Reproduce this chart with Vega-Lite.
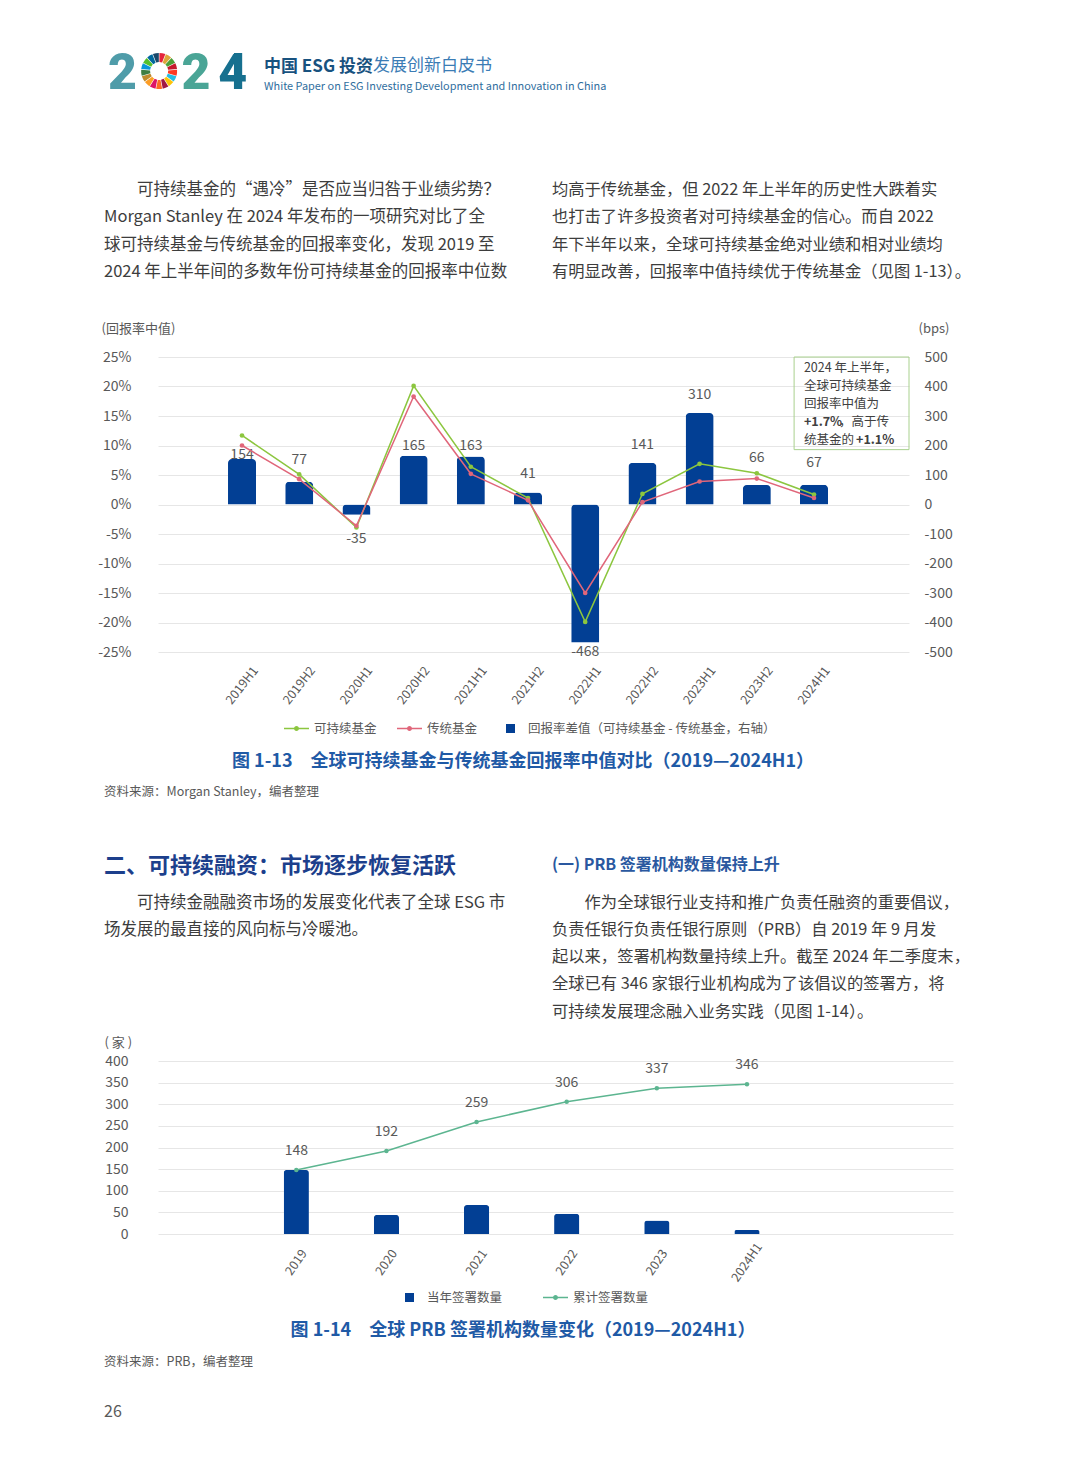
{
  "$schema": "https://vega.github.io/schema/vega-lite/v6.json",
  "background": "white",
  "padding": {"left": 97, "top": 49, "right": 0, "bottom": 0},
  "columns": 2,
  "spacing": {"row": 0, "column": 0},
  "bounds": "flush",
  "align": "each",
  "resolve": {"scale": {"color": "independent", "shape": "independent"}, "legend": {"color": "independent", "shape": "independent"}},
  "config": {
    "view": {"stroke": null},
    "font": "Noto Sans CJK SC"
  },
  "datasets": {
    "c1bars": [
      {"p": "2019H1", "diff": 154}, {"p": "2019H2", "diff": 77}, {"p": "2020H1", "diff": -35},
      {"p": "2020H2", "diff": 165}, {"p": "2021H1", "diff": 163}, {"p": "2021H2", "diff": 41},
      {"p": "2022H1", "diff": -468}, {"p": "2022H2", "diff": 141}, {"p": "2023H1", "diff": 310},
      {"p": "2023H2", "diff": 66}, {"p": "2024H1", "diff": 67}
    ],
    "c1lines": [
      {"p": "2019H1", "series": "可持续基金", "value": 11.7}, {"p": "2019H2", "series": "可持续基金", "value": 5.1},
      {"p": "2020H1", "series": "可持续基金", "value": -3.9}, {"p": "2020H2", "series": "可持续基金", "value": 20.1},
      {"p": "2021H1", "series": "可持续基金", "value": 6.4}, {"p": "2021H2", "series": "可持续基金", "value": 1.1},
      {"p": "2022H1", "series": "可持续基金", "value": -19.9}, {"p": "2022H2", "series": "可持续基金", "value": 1.8},
      {"p": "2023H1", "series": "可持续基金", "value": 6.9}, {"p": "2023H2", "series": "可持续基金", "value": 5.3},
      {"p": "2024H1", "series": "可持续基金", "value": 1.7},
      {"p": "2019H1", "series": "传统基金", "value": 10.0}, {"p": "2019H2", "series": "传统基金", "value": 4.3},
      {"p": "2020H1", "series": "传统基金", "value": -3.6}, {"p": "2020H2", "series": "传统基金", "value": 18.3},
      {"p": "2021H1", "series": "传统基金", "value": 5.2}, {"p": "2021H2", "series": "传统基金", "value": 0.7},
      {"p": "2022H1", "series": "传统基金", "value": -15.0}, {"p": "2022H2", "series": "传统基金", "value": 0.4},
      {"p": "2023H1", "series": "传统基金", "value": 3.9}, {"p": "2023H2", "series": "传统基金", "value": 4.4},
      {"p": "2024H1", "series": "传统基金", "value": 1.1}
    ],
    "c2": [
      {"yr": "2019", "series": "当年签署数量", "n": 148}, {"yr": "2020", "series": "当年签署数量", "n": 44},
      {"yr": "2021", "series": "当年签署数量", "n": 67}, {"yr": "2022", "series": "当年签署数量", "n": 47},
      {"yr": "2023", "series": "当年签署数量", "n": 31}, {"yr": "2024H1", "series": "当年签署数量", "n": 9},
      {"yr": "2019", "series": "累计签署数量", "n": 148}, {"yr": "2020", "series": "累计签署数量", "n": 192},
      {"yr": "2021", "series": "累计签署数量", "n": 259}, {"yr": "2022", "series": "累计签署数量", "n": 306},
      {"yr": "2023", "series": "累计签署数量", "n": 337}, {"yr": "2024H1", "series": "累计签署数量", "n": 346}
    ]
  },
  "concat": [
    {
      "width": 54, "height": 38,
      "title": {
        "text": "中国 ESG 投资",
        "subtitle": "White Paper on ESG Investing Development and Innovation in China",
        "orient": "bottom", "anchor": "start", "frame": "group", "offset": -40, "dx": 160,
        "fontSize": 17, "fontWeight": "bold", "color": "#18527f",
        "subtitleFontSize": 10.9, "subtitleColor": "#2f6e9e", "subtitlePadding": 5
      },
      "layer": [
        {
          "data": {"values": [{"slot": "a", "d": "2"}, {"slot": "c", "d": "2"}, {"slot": "d", "d": "4"}]},
          "mark": {"type": "text", "font": "Roboto", "fontWeight": 900, "fontSize": 50, "baseline": "middle", "dy": 3},
          "encoding": {
            "x": {"field": "slot", "type": "nominal", "scale": {"domain": ["a", "b", "c", "d"], "range": [0, 147], "paddingInner": 0, "paddingOuter": 0}, "axis": null},
            "text": {"field": "d"},
            "color": {"field": "slot", "type": "nominal", "scale": {"domain": ["a", "c", "d"], "range": ["#4f9ca9", "#4aa596", "#16708f"]}, "legend": null}
          }
        },
        {
          "data": {"values": [{"g": 1}, {"g": 2}, {"g": 3}, {"g": 4}, {"g": 5}, {"g": 6}, {"g": 7}, {"g": 8}, {"g": 9}, {"g": 10}, {"g": 11}, {"g": 12}, {"g": 13}, {"g": 14}, {"g": 15}, {"g": 16}, {"g": 17}]},
          "mark": {"type": "arc", "innerRadius": 9, "outerRadius": 18, "padAngle": 0.03},
          "encoding": {
            "x": {"datum": "b", "type": "nominal"},
            "theta": {"aggregate": "count", "type": "quantitative"},
            "color": {"field": "g", "type": "ordinal", "scale": {"range": ["#E5243B", "#DDA63A", "#4C9F38", "#C5192D", "#FF3A21", "#26BDE2", "#FCC30B", "#A21942", "#FD6925", "#DD1367", "#FD9D24", "#BF8B2E", "#3F7E44", "#0A97D9", "#56C02B", "#00689D", "#19486A"]}, "legend": null}
          }
        }
      ],
      "resolve": {"scale": {"color": "independent"}}
    },
    {
      "width": 100, "height": 123,
      "data": {"values": [{}]},
      "mark": {"type": "text"},
      "encoding": {"text": {"value": ""}},
      "title": {
        "text": "发展创新白皮书",
        "orient": "bottom", "anchor": "start", "frame": "group", "offset": -117, "dx": 215,
        "fontSize": 17, "fontWeight": "normal", "color": "#3b7cb5"
      }
    },
    {
      "width": 54, "height": 182,
      "data": {"values": [{}]},
      "mark": {"type": "text"},
      "encoding": {"text": {"value": ""}},
      "title": {
        "text": ["\u200b　　可持续基金的“遇冷”是否应当归咎于业绩劣势？", "Morgan Stanley 在 2024 年发布的一项研究对比了全", "球可持续基金与传统基金的回报率变化，发现 2019 至", "2024 年上半年间的多数年份可持续基金的回报率中位数"],
        "orient": "bottom", "anchor": "start", "frame": "group", "offset": -175,
        "fontSize": 16.5, "fontWeight": "normal", "lineHeight": 27.3, "color": "#3d3d3d"
      }
    },
    {
      "width": 100, "height": 182,
      "data": {"values": [{}]},
      "mark": {"type": "text"},
      "encoding": {"text": {"value": ""}},
      "title": {
        "text": ["均高于传统基金，但 2022 年上半年的历史性大跌着实", "也打击了许多投资者对可持续基金的信心。而自 2022", "年下半年以来，全球可持续基金绝对业绩和相对业绩均", "有明显改善，回报率中值持续优于传统基金（见图 1-13）。"],
        "orient": "bottom", "anchor": "start", "frame": "group", "offset": -175, "dx": 394,
        "fontSize": 16.3, "fontWeight": "normal", "lineHeight": 27.3, "color": "#3d3d3d"
      }
    },
    {
      "width": 1, "height": 391,
      "data": {"values": [{}]},
      "mark": {"type": "text"},
      "encoding": {"text": {"value": ""}}
    },
    {
      "width": 751, "height": 295,
      "layer": [
        {
          "data": {"name": "c1bars"},
          "layer": [
            {
              "mark": {"type": "bar", "color": "#023f94", "cornerRadiusEnd": 4},
              "encoding": {
                "x": {
                  "field": "p", "type": "nominal",
                  "scale": {"domain": ["_a", "2019H1", "2019H2", "2020H1", "2020H2", "2021H1", "2021H2", "2022H1", "2022H2", "2023H1", "2023H2", "2024H1", "_b"], "paddingInner": 0.51, "paddingOuter": 0.32, "align": 0.35},
                  "axis": {"title": null, "labelExpr": "indexof(datum.label, '_') === 0 ? '' : datum.label", "labelAngle": -52, "labelAlign": "center", "labelBaseline": "middle", "labelPadding": 33, "labelFontSize": 12.5, "labelColor": "#595959", "domain": false, "ticks": false, "labelOverlap": false}
                },
                "y": {
                  "field": "diff", "type": "quantitative",
                  "scale": {"domain": [-500, 500], "nice": false},
                  "axis": {"orient": "right", "values": [-500, -400, -300, -200, -100, 0, 100, 200, 300, 400, 500], "tickCount": 20, "labelExpr": "datum.value + ''", "labelOverlap": false, "grid": false, "domain": false, "ticks": false, "labelPadding": 15, "labelFontSize": 14, "labelColor": "#595959", "title": "(bps)", "titleAngle": 0, "titleAlign": "left", "titleBaseline": "middle", "titleX": 9, "titleY": -29, "titleFontSize": 13, "titleFontWeight": "normal", "titleColor": "#595959"}
                }
              }
            },
            {
              "transform": [{"filter": "datum.diff === 154"}],
              "mark": {"type": "text", "baseline": "middle", "dy": -4, "fontSize": 14, "color": "#595959"},
              "encoding": {"x": {"field": "p", "type": "nominal"}, "y": {"field": "diff", "type": "quantitative"}, "text": {"field": "diff"}}
            },
            {
              "transform": [{"filter": "indexof([165, 163], datum.diff) >= 0"}],
              "mark": {"type": "text", "baseline": "middle", "dy": -10, "fontSize": 14, "color": "#595959"},
              "encoding": {"x": {"field": "p", "type": "nominal"}, "y": {"field": "diff", "type": "quantitative"}, "text": {"field": "diff"}}
            },
            {
              "transform": [{"filter": "indexof([41, 141, 310], datum.diff) >= 0"}],
              "mark": {"type": "text", "baseline": "middle", "dy": -18, "fontSize": 14, "color": "#595959"},
              "encoding": {"x": {"field": "p", "type": "nominal"}, "y": {"field": "diff", "type": "quantitative"}, "text": {"field": "diff"}}
            },
            {
              "transform": [{"filter": "indexof([77, 67], datum.diff) >= 0"}],
              "mark": {"type": "text", "baseline": "middle", "dy": -22, "fontSize": 14, "color": "#595959"},
              "encoding": {"x": {"field": "p", "type": "nominal"}, "y": {"field": "diff", "type": "quantitative"}, "text": {"field": "diff"}}
            },
            {
              "transform": [{"filter": "datum.diff === 66"}],
              "mark": {"type": "text", "baseline": "middle", "dy": -27, "fontSize": 14, "color": "#595959"},
              "encoding": {"x": {"field": "p", "type": "nominal"}, "y": {"field": "diff", "type": "quantitative"}, "text": {"field": "diff"}}
            },
            {
              "transform": [{"filter": "datum.diff === -35"}],
              "mark": {"type": "text", "baseline": "middle", "dy": 24, "fontSize": 14, "color": "#595959"},
              "encoding": {"x": {"field": "p", "type": "nominal"}, "y": {"field": "diff", "type": "quantitative"}, "text": {"field": "diff"}}
            },
            {
              "transform": [{"filter": "datum.diff === -468"}],
              "mark": {"type": "text", "baseline": "middle", "dy": 9, "fontSize": 14, "color": "#595959"},
              "encoding": {"x": {"field": "p", "type": "nominal"}, "y": {"field": "diff", "type": "quantitative"}, "text": {"field": "diff"}}
            }
          ]
        },
        {
          "data": {"name": "c1lines"},
          "layer": [
            {
              "transform": [{"filter": "datum.series === '可持续基金'"}],
              "mark": {"type": "line", "color": "#8cc63f", "strokeWidth": 1.5},
              "encoding": {
                "x": {"field": "p", "type": "nominal"},
                "y": {
                  "field": "value", "type": "quantitative",
                  "scale": {"domain": [-25, 25], "nice": false},
                  "axis": {"orient": "left", "values": [-25, -20, -15, -10, -5, 0, 5, 10, 15, 20, 25], "tickCount": 20, "labelOverlap": false, "labelExpr": "datum.value + '%'", "grid": true, "gridColor": "#e6e6e6", "domain": false, "ticks": false, "labelPadding": 27, "labelFontSize": 14, "labelColor": "#595959", "title": "(回报率中值)", "titleAngle": 0, "titleAlign": "left", "titleBaseline": "middle", "titleX": -57, "titleY": -29, "titleFontSize": 13, "titleFontWeight": "normal", "titleColor": "#595959"}
                }
              }
            },
            {
              "transform": [{"filter": "datum.series === '传统基金'"}],
              "mark": {"type": "line", "color": "#e0667a", "strokeWidth": 1.5},
              "encoding": {"x": {"field": "p", "type": "nominal"}, "y": {"field": "value", "type": "quantitative"}}
            },
            {
              "transform": [{"filter": "datum.series === '可持续基金'"}],
              "mark": {"type": "point", "filled": true, "size": 22, "opacity": 1, "color": "#8cc63f"},
              "encoding": {"x": {"field": "p", "type": "nominal"}, "y": {"field": "value", "type": "quantitative"}}
            },
            {
              "transform": [{"filter": "datum.series === '传统基金'"}],
              "mark": {"type": "point", "filled": true, "size": 22, "opacity": 1, "color": "#e0667a"},
              "encoding": {"x": {"field": "p", "type": "nominal"}, "y": {"field": "value", "type": "quantitative"}}
            },
            {
              "transform": [{"filter": "false"}],
              "mark": {"type": "point", "filled": true, "opacity": 1},
              "encoding": {
                "x": {"field": "p", "type": "nominal"},
                "y": {"field": "value", "type": "quantitative"},
                "color": {
                  "field": "series", "type": "nominal",
                  "scale": {"domain": ["可持续基金", "传统基金", "回报率差值（可持续基金 - 传统基金，右轴）"], "range": ["#8cc63f", "#e0667a", "#023f94"]},
                  "legend": {
                    "orient": "none", "legendX": 126, "legendY": 359, "direction": "horizontal", "title": null,
                    "labelFontSize": 12.5, "labelColor": "#595959", "labelLimit": 400, "symbolSize": 625, "symbolStrokeWidth": 0, "symbolOpacity": 1,
                    "labelOffset": 5, "columnPadding": 20, "padding": 0
                  }
                },
                "shape": {
                  "field": "series", "type": "nominal",
                  "scale": {"domain": ["可持续基金", "传统基金", "回报率差值（可持续基金 - 传统基金，右轴）"], "range": ["M-1,-0.06H1V0.06H-1Z M0.2,0A0.2,0.2 0 1,1 -0.2,0A0.2,0.2 0 1,1 0.2,0Z", "M-1,-0.06H1V0.06H-1Z M0.2,0A0.2,0.2 0 1,1 -0.2,0A0.2,0.2 0 1,1 0.2,0Z", "M-0.36,-0.36H0.36V0.36H-0.36Z"]},
                  "legend": {
                    "orient": "none", "legendX": 126, "legendY": 359, "direction": "horizontal", "title": null,
                    "labelFontSize": 12.5, "labelColor": "#595959", "labelLimit": 400, "symbolSize": 625, "symbolStrokeWidth": 0, "symbolOpacity": 1,
                    "labelOffset": 5, "columnPadding": 20, "padding": 0
                  }
                }
              }
            },
            {
              "data": {"values": [{}]},
              "mark": {"type": "rect", "fill": null, "fillOpacity": 0, "stroke": "#a9d18e", "strokeWidth": 1},
              "encoding": {
                "x": {"datum": "2024H1", "type": "nominal", "bandPosition": -0.21},
                "x2": {"value": "width"},
                "y": {"datum": 25, "type": "quantitative"},
                "y2": {"datum": 9.3}
              }
            },
            {
              "data": {"values": [{"t": "2024 年上半年，"}]},
              "mark": {"type": "text", "align": "left", "baseline": "middle", "fontSize": 12.5, "color": "#404040"},
              "encoding": {"x": {"datum": "2024H1", "type": "nominal", "bandPosition": 0.14}, "y": {"datum": 23.1, "type": "quantitative"}, "text": {"field": "t"}}
            },
            {
              "data": {"values": [{"t": "全球可持续基金"}]},
              "mark": {"type": "text", "align": "left", "baseline": "middle", "fontSize": 12.5, "color": "#404040"},
              "encoding": {"x": {"datum": "2024H1", "type": "nominal", "bandPosition": 0.14}, "y": {"datum": 20.1, "type": "quantitative"}, "text": {"field": "t"}}
            },
            {
              "data": {"values": [{"t": "回报率中值为"}]},
              "mark": {"type": "text", "align": "left", "baseline": "middle", "fontSize": 12.5, "color": "#404040"},
              "encoding": {"x": {"datum": "2024H1", "type": "nominal", "bandPosition": 0.14}, "y": {"datum": 17.05, "type": "quantitative"}, "text": {"field": "t"}}
            },
            {
              "data": {"values": [{"t": "+1.7%"}]},
              "mark": {"type": "text", "align": "left", "baseline": "middle", "fontSize": 12.5, "fontWeight": "bold", "color": "#404040"},
              "encoding": {"x": {"datum": "2024H1", "type": "nominal", "bandPosition": 0.14}, "y": {"datum": 14.0, "type": "quantitative"}, "text": {"field": "t"}}
            },
            {
              "data": {"values": [{"t": "，高于传"}]},
              "mark": {"type": "text", "align": "left", "baseline": "middle", "fontSize": 12.5, "color": "#404040"},
              "encoding": {"x": {"datum": "2024H1", "type": "nominal", "bandPosition": 1.39}, "y": {"datum": 14.0, "type": "quantitative"}, "text": {"field": "t"}}
            },
            {
              "data": {"values": [{"t": "统基金的"}]},
              "mark": {"type": "text", "align": "left", "baseline": "middle", "fontSize": 12.5, "color": "#404040"},
              "encoding": {"x": {"datum": "2024H1", "type": "nominal", "bandPosition": 0.14}, "y": {"datum": 10.95, "type": "quantitative"}, "text": {"field": "t"}}
            },
            {
              "data": {"values": [{"t": "+1.1%"}]},
              "mark": {"type": "text", "align": "left", "baseline": "middle", "fontSize": 12.5, "fontWeight": "bold", "color": "#404040"},
              "encoding": {"x": {"datum": "2024H1", "type": "nominal", "bandPosition": 2.0}, "y": {"datum": 10.95, "type": "quantitative"}, "text": {"field": "t"}}
            }
          ]
        }
      ],
      "resolve": {"scale": {"y": "independent"}}
    },
    {
      "width": 1, "height": 1,
      "data": {"values": [{}]},
      "mark": {"type": "text"},
      "encoding": {"text": {"value": ""}}
    },
    {
      "width": 730, "height": 34,
      "data": {"values": [{}]},
      "mark": {"type": "text"},
      "encoding": {"text": {"value": ""}},
      "title": {
        "text": "图 1-13　全球可持续基金与传统基金回报率中值对比（2019—2024H1）",
        "orient": "bottom", "anchor": "middle", "frame": "group", "offset": -29,
        "fontSize": 18, "fontWeight": "bold", "color": "#1f5aa6"
      }
    },
    {
      "width": 54, "height": 71,
      "data": {"values": [{}]},
      "mark": {"type": "text"},
      "encoding": {"text": {"value": ""}},
      "title": {
        "text": "资料来源：Morgan Stanley，编者整理",
        "orient": "bottom", "anchor": "start", "frame": "group", "offset": -67.5,
        "fontSize": 12.5, "fontWeight": "normal", "color": "#595959"
      }
    },
    {
      "width": 1, "height": 1,
      "data": {"values": [{}]},
      "mark": {"type": "text"},
      "encoding": {"text": {"value": ""}}
    },
    {
      "width": 54, "height": 208,
      "data": {"values": [{}]},
      "mark": {"type": "text"},
      "encoding": {"text": {"value": ""}},
      "title": {
        "text": "二、可持续融资：市场逐步恢复活跃",
        "subtitle": ["\u200b　　可持续金融融资市场的发展变化代表了全球 ESG 市", "场发展的最直接的风向标与冷暖池。"],
        "orient": "bottom", "anchor": "start", "frame": "group", "offset": -205,
        "fontSize": 22, "fontWeight": "bold", "color": "#1c3f8c",
        "subtitleFontSize": 16.5, "subtitleLineHeight": 27.3, "subtitleColor": "#3d3d3d", "subtitlePadding": 17
      }
    },
    {
      "width": 100, "height": 208,
      "data": {"values": [{}]},
      "mark": {"type": "text"},
      "encoding": {"text": {"value": ""}},
      "title": {
        "text": "(一) PRB 签署机构数量保持上升",
        "subtitle": ["\u200b　　作为全球银行业支持和推广负责任融资的重要倡议，", "负责任银行负责任银行原则（PRB）自 2019 年 9 月发", "起以来，签署机构数量持续上升。截至 2024 年二季度末，", "全球已有 346 家银行业机构成为了该倡议的签署方，将", "可持续发展理念融入业务实践（见图 1-14）。"],
        "orient": "bottom", "anchor": "start", "frame": "group", "offset": -204.5, "dx": 394,
        "fontSize": 16, "fontWeight": "bold", "color": "#2a58a0",
        "subtitleFontSize": 16.3, "subtitleLineHeight": 27.3, "subtitleColor": "#3d3d3d", "subtitlePadding": 22
      }
    },
    {
      "width": 1, "height": 258,
      "data": {"values": [{}]},
      "mark": {"type": "text"},
      "encoding": {"text": {"value": ""}}
    },
    {
      "width": 795, "height": 173,
      "data": {"name": "c2"},
      "layer": [
        {
          "transform": [{"filter": "datum.series === '当年签署数量'"}],
          "mark": {"type": "bar", "color": "#023f94", "cornerRadiusEnd": 3},
          "encoding": {
            "x": {
              "field": "yr", "type": "nominal",
              "scale": {"domain": ["_a", "2019", "2020", "2021", "2022", "2023", "2024H1", "_b", "_c"], "paddingInner": 0.72, "paddingOuter": 0.27, "align": 0.73},
              "axis": {"title": null, "labelExpr": "indexof(datum.label, '_') === 0 ? '' : datum.label", "labelAngle": -55, "labelAlign": "center", "labelBaseline": "middle", "labelPadding": 28, "labelFontSize": 12.5, "labelColor": "#595959", "domain": false, "ticks": false, "labelOverlap": false}
            },
            "y": {
              "field": "n", "type": "quantitative",
              "scale": {"domain": [0, 400], "nice": false},
              "axis": {"values": [0, 50, 100, 150, 200, 250, 300, 350, 400], "tickCount": 20, "labelOverlap": false, "grid": true, "gridColor": "#e6e6e6", "domain": false, "ticks": false, "labelPadding": 30, "labelFontSize": 14, "labelColor": "#595959", "title": "( 家 )", "titleAngle": 0, "titleAlign": "left", "titleBaseline": "middle", "titleX": -54, "titleY": -19, "titleFontSize": 13, "titleFontWeight": "normal", "titleColor": "#595959"}
            }
          }
        },
        {
          "transform": [{"filter": "datum.series === '累计签署数量'"}],
          "mark": {"type": "line", "color": "#5cb590", "strokeWidth": 1.5},
          "encoding": {"x": {"field": "yr", "type": "nominal"}, "y": {"field": "n", "type": "quantitative"}}
        },
        {
          "transform": [{"filter": "datum.series === '累计签署数量'"}],
          "mark": {"type": "point", "filled": true, "size": 20, "opacity": 1, "color": "#5cb590"},
          "encoding": {"x": {"field": "yr", "type": "nominal"}, "y": {"field": "n", "type": "quantitative"}}
        },
        {
          "transform": [{"filter": "false"}],
          "mark": {"type": "point", "filled": true, "opacity": 1},
          "encoding": {
            "x": {"field": "yr", "type": "nominal"},
            "y": {"field": "n", "type": "quantitative"},
            "color": {
              "field": "series", "type": "nominal",
              "scale": {"domain": ["当年签署数量", "累计签署数量"], "range": ["#023f94", "#5cb590"]},
              "legend": {
                "orient": "none", "legendX": 239, "legendY": 224, "direction": "horizontal", "title": null,
                "labelFontSize": 12.5, "labelColor": "#595959", "symbolSize": 625, "symbolStrokeWidth": 0, "symbolOpacity": 1,
                "labelOffset": 5, "columnPadding": 40, "padding": 0
              }
            },
            "shape": {
              "field": "series", "type": "nominal",
              "scale": {"domain": ["当年签署数量", "累计签署数量"], "range": ["M-0.36,-0.36H0.36V0.36H-0.36Z", "M-1,-0.06H1V0.06H-1Z M0.2,0A0.2,0.2 0 1,1 -0.2,0A0.2,0.2 0 1,1 0.2,0Z"]},
              "legend": {
                "orient": "none", "legendX": 239, "legendY": 224, "direction": "horizontal", "title": null,
                "labelFontSize": 12.5, "labelColor": "#595959", "symbolSize": 625, "symbolStrokeWidth": 0, "symbolOpacity": 1,
                "labelOffset": 5, "columnPadding": 40, "padding": 0
              }
            }
          }
        },
        {
          "transform": [{"filter": "datum.series === '累计签署数量'"}],
          "mark": {"type": "text", "baseline": "middle", "dy": -19, "fontSize": 14, "color": "#595959"},
          "encoding": {"x": {"field": "yr", "type": "nominal"}, "y": {"field": "n", "type": "quantitative"}, "text": {"field": "n"}}
        }
      ]
    },
    {
      "width": 1, "height": 1,
      "data": {"values": [{}]},
      "mark": {"type": "text"},
      "encoding": {"text": {"value": ""}}
    },
    {
      "width": 730, "height": 34,
      "data": {"values": [{}]},
      "mark": {"type": "text"},
      "encoding": {"text": {"value": ""}},
      "title": {
        "text": "图 1-14　全球 PRB 签署机构数量变化（2019—2024H1）",
        "orient": "bottom", "anchor": "middle", "frame": "group", "offset": -31,
        "fontSize": 18, "fontWeight": "bold", "color": "#1f5aa6"
      }
    },
    {
      "width": 54, "height": 49,
      "data": {"values": [{}]},
      "mark": {"type": "text"},
      "encoding": {"text": {"value": ""}},
      "title": {
        "text": "资料来源：PRB，编者整理",
        "orient": "bottom", "anchor": "start", "frame": "group", "offset": -46,
        "fontSize": 12.5, "fontWeight": "normal", "color": "#595959"
      }
    },
    {
      "width": 1, "height": 1,
      "data": {"values": [{}]},
      "mark": {"type": "text"},
      "encoding": {"text": {"value": ""}}
    },
    {
      "width": 54, "height": 64,
      "data": {"values": [{}]},
      "mark": {"type": "text"},
      "encoding": {"text": {"value": ""}},
      "title": {
        "text": "26",
        "orient": "bottom", "anchor": "start", "frame": "group", "offset": -62,
        "fontSize": 16, "fontWeight": "normal", "color": "#595959"
      }
    },
    {
      "width": 1, "height": 1,
      "data": {"values": [{}]},
      "mark": {"type": "text"},
      "encoding": {"text": {"value": ""}}
    }
  ]
}
